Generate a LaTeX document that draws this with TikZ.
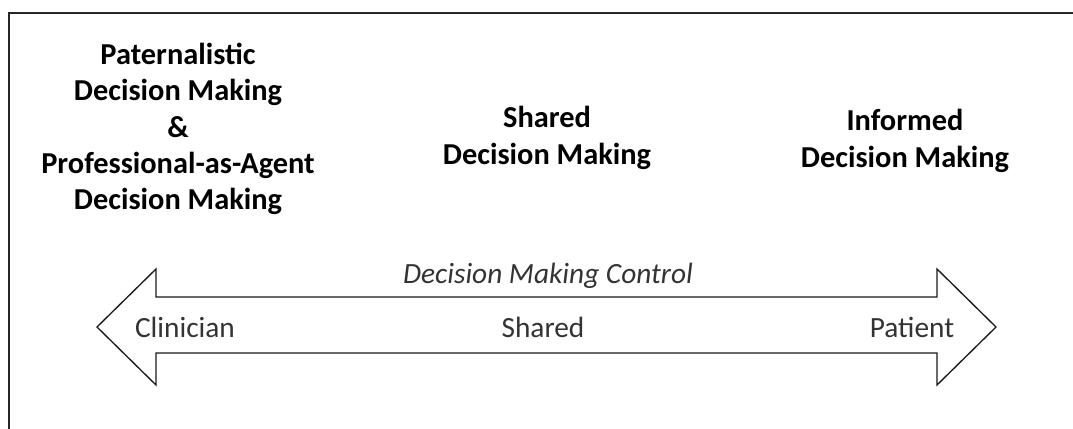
\documentclass[tikz,border=0pt]{standalone}
\usepackage{fontspec}
\setmainfont{Carlito}
\begin{document}
\begin{tikzpicture}[x=0.75pt,y=-0.75pt,
  frame/.style={line width=1.4pt,draw=black!85},
  arrowshape/.style={line width=1pt,draw=black!90,fill=white},
  heading/.style={font=\fontsize{22.8}{27.3}\selectfont\bfseries,align=center,text=black,inner sep=0pt},
  label/.style={font=\fontsize{22}{27}\selectfont,text=black!80,inner sep=0pt}]
\useasboundingbox (0,0) rectangle (1073,428);
\draw[frame] (9,440) -- (9,13) -- (1080,13);
\draw[arrowshape] (97,327) -- (156,269) -- (156,297) -- (937,297) -- (937,269)
  -- (996,327) -- (937,385) -- (937,353) -- (156,353) -- (156,385) -- cycle;
\node[heading] (pat) at (178,129) {Paternalistic\\Decision Making\\\&\\Professional-as-Agent\\Decision Making};
\node[heading] (shd) at (547,138) {Shared\\Decision Making};
\node[heading] (inf) at (905,141) {Informed\\Decision Making};
\node[label,font=\fontsize{22}{27}\selectfont\itshape] (ctl) at (548,276) {Decision Making Control};
\node[label] (cli) at (185,327) {Clinician};
\node[label] (sha) at (543,327) {Shared};
\node[label] (pti) at (912,327) {Patient};
\end{tikzpicture}
\end{document}
